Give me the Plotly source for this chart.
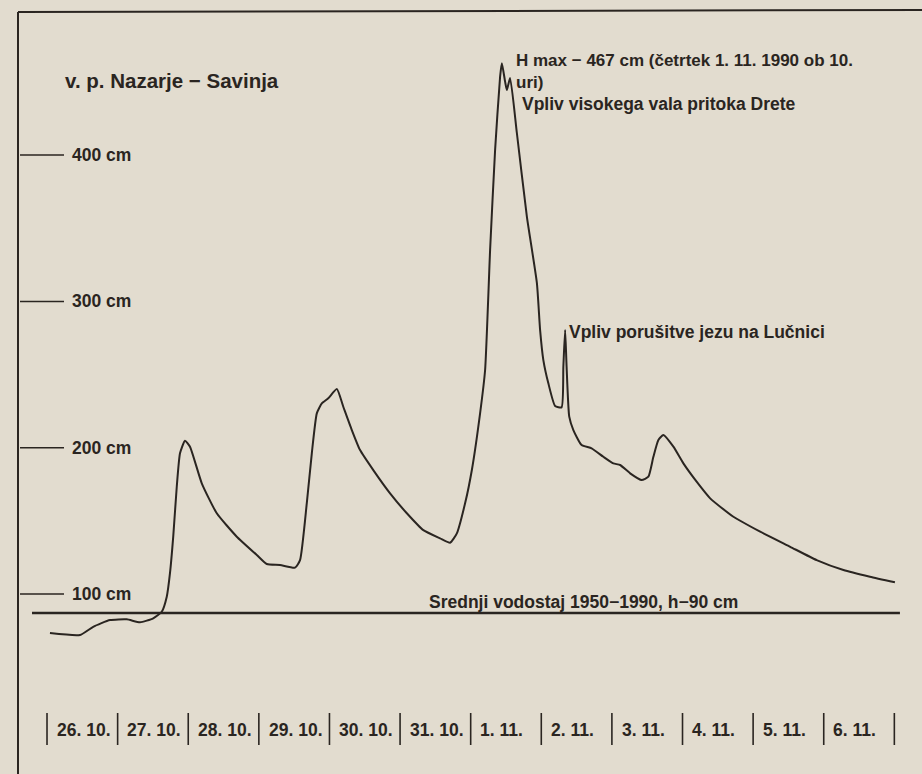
import plotly.graph_objects as go

# Water level of the Savinja at gauge Nazarje, 26.10.-6.11.1990
# time in hours from 26.10. 00:00, level in cm
hours = [1.0, 11.2, 15.7, 21.4, 27.1, 31.6, 36.1, 39.0, 40.7, 41.8, 42.9, 44.1, 45.2, 46.9,
         48.6, 52.6, 57.7, 64.5, 71.3, 74.7, 79.2, 84.3, 86.0, 88.3, 90.0, 91.7, 93.4, 95.6,
         98.5, 100.7, 103.6, 106.4, 110.9, 116.6, 122.3, 127.9, 133.6, 137.0, 139.3, 142.1,
         144.4, 147.2, 148.9, 150.6, 152.3, 154.0, 154.6, 155.7, 156.3, 157.4, 159.7, 163.1,
         166.5, 167.6, 168.7, 170.4, 172.7, 174.9, 175.5, 176.1, 176.6, 177.5, 178.9, 181.7,
         185.1, 189.1, 192.5, 194.8, 198.2, 202.1, 204.4, 206.1, 207.8, 209.5, 212.9, 216.3,
         220.8, 225.4, 233.3, 242.4, 252.6, 261.6, 270.7, 279.7, 288.2]
level_cm = [73.3, 72.0, 77.6, 82.2, 82.7, 80.7, 83.4, 87.9, 98.2, 114.4, 139.2, 173.3, 196.2, 204.8,
            200.7, 175.7, 155.2, 139.2, 126.7, 120.5, 119.8, 118.0, 123.2, 162.2, 196.2, 223.5, 230.3, 233.8,
            240.1, 228.0, 212.1, 198.4, 184.7, 168.8, 155.2, 143.7, 138.1, 135.1, 141.5, 162.0,
            184.8, 223.5, 253.1, 335.1, 403.5, 453.6, 462.7, 450.2, 444.5, 452.7, 415.1, 357.9,
            312.6, 280.4, 259.9, 244.0, 228.5, 227.6, 255.4, 280.4, 255.4, 221.2, 212.1, 201.8,
            199.6, 193.8, 189.3, 188.2, 182.5, 177.9, 180.2, 193.8, 205.3, 208.7, 200.7, 189.3,
            176.8, 165.4, 152.8, 142.6, 132.3, 123.2, 116.4, 111.8, 108.0]

mean_level_cm = 87
mean_label = "Srednji vodostaj 1950−1990, h−90 cm"

y_ticks = [100, 200, 300, 400]
y_tick_labels = ["100 cm", "200 cm", "300 cm", "400 cm"]

day_labels = ["26. 10.", "27. 10.", "28. 10.", "29. 10.", "30. 10.", "31. 10.",
              "1. 11.", "2. 11.", "3. 11.", "4. 11.", "5. 11.", "6. 11."]
day_edges_h = [0, 24, 48, 72, 96, 120, 144, 168, 192, 216, 240, 264, 288]

title_text = "v. p. Nazarje − Savinja"
hmax_line1 = "H max − 467 cm (četrtek 1. 11. 1990 ob 10."
hmax_line2 = "uri)"
drete_text = "Vpliv visokega vala pritoka Drete"
lucnica_text = "Vpliv porušitve jezu na Lučnici"

W, H = 922, 774
INK = "#2a2521"
BG = "#e2dccf"
FONT = "Liberation Sans, Arial, sans-serif"


def px(x):
    return x / W


def py(y):
    return 1 - y / H


fig = go.Figure()
fig.add_trace(go.Scatter(x=hours, y=level_cm, mode="lines",
                         line=dict(color=INK, width=2, shape="spline", smoothing=0.5),
                         hoverinfo="skip", showlegend=False))

shapes = []
# frame lines
shapes.append(dict(type="line", xref="paper", yref="paper", x0=px(18), x1=px(18), y0=0, y1=py(12),
                   line=dict(color=INK, width=2)))
shapes.append(dict(type="line", xref="paper", yref="paper", x0=px(18), x1=1, y0=py(12), y1=py(10),
                   line=dict(color=INK, width=2)))
# y tick dashes
for v in y_ticks:
    shapes.append(dict(type="line", xref="paper", yref="y", x0=px(20), x1=px(64), y0=v, y1=v,
                       line=dict(color=INK, width=1.5)))
# mean level line
shapes.append(dict(type="line", xref="x", yref="y", x0=-5.1, x1=289.9, y0=mean_level_cm, y1=mean_level_cm,
                   line=dict(color=INK, width=2.5)))
# day separators
for h in day_edges_h:
    shapes.append(dict(type="line", xref="x", yref="paper", x0=h, x1=h, y0=py(745), y1=py(713),
                       line=dict(color=INK, width=1.6)))

ann = []
fnt = dict(family=FONT, size=17.5, color=INK, weight="bold")
fnt_small = dict(family=FONT, size=17, color=INK, weight="bold")
for v, t in zip(y_ticks, y_tick_labels):
    ann.append(dict(xref="paper", yref="y", x=px(70), y=v, text=t, showarrow=False,
                    xanchor="left", yanchor="middle", font=fnt))
for h, t in zip(day_edges_h[:-1], day_labels):
    ann.append(dict(xref="x", yref="paper", x=h + 2.6, y=py(730), text=t, showarrow=False,
                    xanchor="left", yanchor="middle", font=fnt))
ann.append(dict(xref="paper", yref="paper", x=px(63), y=py(80), text=title_text, showarrow=False,
                xanchor="left", yanchor="middle", font=dict(family=FONT, size=20.5, color=INK, weight="bold")))
ann.append(dict(xref="paper", yref="paper", x=px(514), y=py(61), text=hmax_line1, showarrow=False,
                xanchor="left", yanchor="middle", font=fnt_small))
ann.append(dict(xref="paper", yref="paper", x=px(514), y=py(82), text=hmax_line2, showarrow=False,
                xanchor="left", yanchor="middle", font=fnt_small))
ann.append(dict(xref="paper", yref="paper", x=px(520), y=py(104), text=drete_text, showarrow=False,
                xanchor="left", yanchor="middle", font=fnt))
ann.append(dict(xref="paper", yref="paper", x=px(567), y=py(332), text=lucnica_text, showarrow=False,
                xanchor="left", yanchor="middle", font=fnt))
ann.append(dict(xref="paper", yref="paper", x=px(427), y=py(602), text=mean_label, showarrow=False,
                xanchor="left", yanchor="middle", font=fnt))

fig.update_layout(
    width=W, height=H,
    margin=dict(l=0, r=0, t=0, b=0),
    paper_bgcolor=BG, plot_bgcolor=BG,
    xaxis=dict(range=[-15.98, 297.4], visible=False, fixedrange=True),
    yaxis=dict(range=[-23.0, 506.0], visible=False, fixedrange=True),
    shapes=shapes, annotations=ann, showlegend=False,
)

fig.write_html("out.html", config={"displayModeBar": False},
               post_script="document.body.style.margin='0';document.body.style.background='" + BG + "';")
